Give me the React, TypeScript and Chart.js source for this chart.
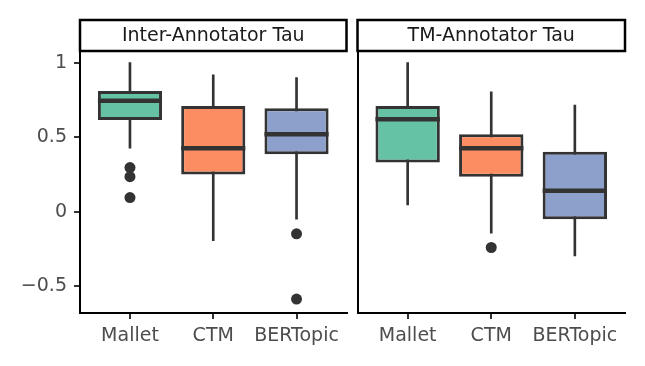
import React, { useEffect, useRef } from 'react';
import { Chart, registerables } from 'chart.js';

Chart.register(...registerables);

const FONT = 'DejaVu Sans';

const categories = ['Mallet', 'CTM', 'BERTopic'];
const colors = ['#66C2A5', '#FC8D62', '#8DA0CB'];

const yTickValues = [-0.5, 0, 0.5, 1];
const yTickLabels = ['\u22120.5', '0', '0.5', '1'];

// Inter-Annotator Tau
const interLow = [0.427, -0.194, -0.049];
const interQ1 = [0.616, 0.25, 0.386];
const interMedian = [0.745, 0.427, 0.52];
const interQ3 = [0.81, 0.71, 0.694];
const interHigh = [1.0, 0.918, 0.9];
const interOutliers = [[0.297, 0.236, 0.096], [], [-0.147, -0.585]];

// TM-Annotator Tau
const tmLow = [0.047, -0.143, -0.295];
const tmQ1 = [0.33, 0.236, -0.049];
const tmMedian = [0.621, 0.427, 0.141];
const tmQ3 = [0.71, 0.52, 0.402];
const tmHigh = [1.0, 0.804, 0.715];
const tmOutliers = [[], [-0.239], []];

const Y_MIN = -0.678;
const Y_MAX = 1.078;
const STRIP_TOP = 20;

type PanelProps = {
  title: string;
  low: number[];
  q1: number[];
  median: number[];
  q3: number[];
  high: number[];
  outliers: number[][];
  showY: boolean;
  left: number;
  width: number;
  yWidth: number;
  padRight: number;
};

function Panel(props: PanelProps) {
  const ref = useRef<HTMLCanvasElement | null>(null);
  useEffect(() => {
    if (!ref.current) return;
    const boxData = categories.map((_, i) => ({ x: i + 1, y: [props.q1[i], props.q3[i]] }));
    const whiskerData = categories.map((_, i) => ({ x: i + 1, y: [props.low[i], props.high[i]] }));
    const outlierData = props.outliers.flatMap((arr, i) => arr.map((v) => ({ x: i + 1, y: v })));

    const stripPlugin = {
      id: 'strip',
      afterDraw(chart: any) {
        const { ctx, chartArea } = chart;
        ctx.save();
        ctx.lineWidth = 2.5;
        ctx.strokeStyle = '#000';
        ctx.strokeRect(chartArea.left, STRIP_TOP, chartArea.right - chartArea.left, chartArea.top - STRIP_TOP);
        ctx.fillStyle = '#1a1a1a';
        ctx.font = `19px "${FONT}"`;
        ctx.textAlign = 'center';
        ctx.textBaseline = 'middle';
        ctx.fillText(props.title, (chartArea.left + chartArea.right) / 2, (STRIP_TOP + chartArea.top) / 2 + 0.5);
        ctx.restore();
      },
    };
    const medianPlugin = {
      id: 'medianLines',
      afterDatasetsDraw(chart: any) {
        const { ctx } = chart;
        const meta = chart.getDatasetMeta(0);
        const yScale = chart.scales.y;
        ctx.save();
        ctx.strokeStyle = '#333333';
        ctx.lineWidth = 4.5;
        meta.data.forEach((bar: any, i: number) => {
          const { x, width } = bar.getProps(['x', 'width'], true);
          const py = yScale.getPixelForValue(props.median[i]);
          ctx.beginPath();
          ctx.moveTo(x - width / 2, py);
          ctx.lineTo(x + width / 2, py);
          ctx.stroke();
        });
        ctx.restore();
      },
    };

    const chart = new Chart(ref.current, {
      type: 'bar',
      data: {
        datasets: [
          {
            type: 'bar',
            data: boxData as any,
            backgroundColor: colors,
            borderColor: '#333333',
            borderWidth: 3,
            borderSkipped: false,
            grouped: false,
            barPercentage: 0.77,
            categoryPercentage: 1,
            order: 1,
          } as any,
          {
            type: 'bar',
            data: whiskerData as any,
            backgroundColor: '#333333',
            borderWidth: 0,
            grouped: false,
            barThickness: 2,
            order: 2,
          } as any,
          {
            type: 'scatter',
            data: outlierData,
            pointRadius: 5.5,
            backgroundColor: '#333333',
            borderWidth: 0,
            order: 0,
          } as any,
        ],
      },
      options: {
        responsive: false,
        animation: false,
        devicePixelRatio: 1,
        layout: { padding: { top: 51, right: props.padRight, left: 0, bottom: 0 } },
        plugins: { legend: { display: false }, tooltip: { enabled: false } },
        scales: {
          x: {
            type: 'linear',
            min: 0.4,
            max: 3.6,
            offset: false,
            afterBuildTicks: (s: any) => {
              s.ticks = categories.map((_, i) => ({ value: i + 1 }));
            },
            afterFit: (s: any) => {
              s.height = 53;
            },
            ticks: {
              callback: (v: any) => categories[Math.round(v) - 1],
              color: '#4d4d4d',
              font: { family: FONT, size: 19 },
              padding: 6,
              maxRotation: 0,
              autoSkip: false,
            },
            grid: { drawOnChartArea: false, drawTicks: true, tickLength: 6, color: '#333333', lineWidth: 2, offset: false },
            border: { display: true, color: '#000', width: 2 },
          } as any,
          y: {
            min: Y_MIN,
            max: Y_MAX,
            afterBuildTicks: (s: any) => {
              s.ticks = yTickValues.map((v) => ({ value: v }));
            },
            afterFit: (s: any) => {
              s.width = props.yWidth;
            },
            ticks: {
              display: props.showY,
              callback: (v: any) => yTickLabels[yTickValues.indexOf(v)],
              color: '#4d4d4d',
              font: { family: FONT, size: 19 },
              padding: 7,
            },
            grid: { display: props.showY, drawOnChartArea: false, drawTicks: true, tickLength: 6, color: '#333333', lineWidth: 2 },
            border: { display: true, color: '#000', width: 2 },
          } as any,
        },
      },
      plugins: [medianPlugin, stripPlugin],
    });
    return () => chart.destroy();
  }, []);
  return (
    <canvas
      ref={ref}
      width={props.width}
      height={366}
      style={{ position: 'absolute', left: props.left, top: 0, width: props.width, height: 366 }}
    />
  );
}

export default function App() {
  return (
    <div style={{ position: 'absolute', left: 0, top: 0, width: 645, height: 366, background: '#fff', overflow: 'hidden' }}>
      <Panel
        title="Inter-Annotator Tau"
        low={interLow}
        q1={interQ1}
        median={interMedian}
        q3={interQ3}
        high={interHigh}
        outliers={interOutliers}
        showY={true}
        left={0}
        width={352}
        yWidth={80}
        padRight={2}
      />
      <Panel
        title="TM-Annotator Tau"
        low={tmLow}
        q1={tmQ1}
        median={tmMedian}
        q3={tmQ3}
        high={tmHigh}
        outliers={tmOutliers}
        showY={false}
        left={352}
        width={293}
        yWidth={3}
        padRight={20}
      />
    </div>
  );
}
